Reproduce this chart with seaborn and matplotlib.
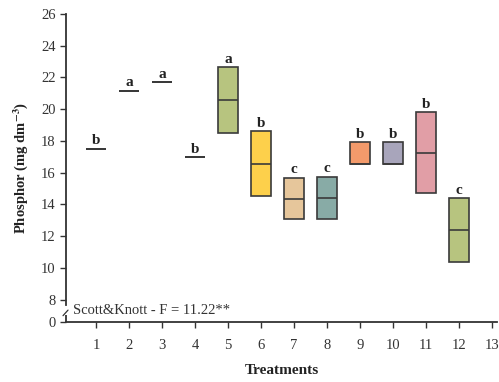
import matplotlib
matplotlib.use("Agg")
import matplotlib.pyplot as plt
import matplotlib.transforms as mtransforms
import numpy as np
import pandas as pd
import seaborn as sns

# Phosphor content per treatment: range (low/high) and median
treatments = [1, 2, 3, 4, 5, 6, 7, 8, 9, 10, 11, 12]
low = [17.50, 21.15, 21.70, 16.96, 18.47, 14.53, 13.08, 13.08, 16.56, 16.56, 14.70, 10.36]
mid = [17.50, 21.15, 21.70, 16.96, 20.57, 16.54, 14.34, 14.42, 16.56, 16.56, 17.23, 12.37]
high = [17.50, 21.15, 21.70, 16.96, 22.64, 18.60, 15.68, 15.74, 17.90, 17.90, 19.81, 14.40]
letters = ["b", "a", "a", "b", "a", "b", "c", "c", "b", "b", "b", "c"]
colors = ["#ffffff", "#ffffff", "#ffffff", "#ffffff", "#b7c47f", "#fdd04b",
          "#e6c69b", "#88aba6", "#f39a6b", "#a8a5bb", "#e19ea6", "#b7c47f"]

y_ticks = [8, 10, 12, 14, 16, 18, 20, 22, 24, 26]
x_ticks = list(range(1, 14))
y_floor = 6.60  # position of the "0" label below the axis break

# Five points per treatment so the box spans exactly low..high with the median inside
rows = []
for t, lo, md, hi in zip(treatments, low, mid, high):
    for v in (lo, lo, md, hi, hi):
        rows.append({"Treatment": t, "P": v})
df = pd.DataFrame(rows)

sns.set_theme(style="ticks")
plt.rcParams["font.family"] = ["Liberation Serif", "DejaVu Serif"]
plt.rcParams["mathtext.fontset"] = "stix"

fig = plt.figure(figsize=(4.99, 3.82), dpi=100)
ax = fig.add_axes([0.1323, 0.157, 0.8637, 0.807])

edge = "#3a3a3a"
sns.boxplot(data=df, x="Treatment", y="P", hue="Treatment",
            palette=dict(zip(treatments, colors)), native_scale=True,
            width=0.6, whis=0, showcaps=False, showfliers=False,
            saturation=1, linewidth=1.2, linecolor=edge, legend=False, ax=ax)

# Single-valued treatments are drawn as plain horizontal bars
for t, lo, hi in zip(treatments, low, high):
    if hi == lo:
        ax.plot([t - 0.3, t + 0.3], [lo, lo], color=edge, lw=1.2,
                solid_capstyle="butt", zorder=3)

for t, hi, lab in zip(treatments, high, letters):
    ax.annotate(lab, (t, hi), xytext=(0, 1), textcoords="offset points",
                ha="center", va="bottom", fontsize=11, fontweight="bold",
                color="#222222")

ax.set_xlim(0.09, 13.15)
ax.set_ylim(y_floor, 26)
ax.set_xticks(x_ticks)
ax.set_xticklabels([str(v) for v in x_ticks])
ax.set_yticks([y_floor] + y_ticks)
ax.set_yticklabels(["0"] + [str(v) for v in y_ticks])
ax.tick_params(axis="both", labelsize=10.5, colors="#333333", labelcolor="#333333",
               length=4, width=1.0)
ax.tick_params(axis="x", pad=8)

for side in ("top", "right"):
    ax.spines[side].set_visible(False)
for side in ("left", "bottom"):
    ax.spines[side].set_color("#333333")
    ax.spines[side].set_linewidth(1.3)

# Broken y axis
ax.spines["left"].set_bounds(7.7, 26)
trans = mtransforms.blended_transform_factory(ax.transAxes, ax.transData)
ax.plot([0, 0], [y_floor, 7.02], color="#333333", lw=1.3, transform=trans,
        clip_on=False, solid_capstyle="butt")
px = 1.0 / (0.8637 * 499)
ax.plot([-3 * px, 2 * px], [7.0, 7.35], color="#333333", lw=0.9,
        transform=trans, clip_on=False)

ax.text(0.0155, 7.33, "Scott&Knott - F = 11.22**", transform=trans,
        ha="left", va="center", fontsize=10.5, color="#333333")

ax.set_xlabel("Treatments", fontsize=11, fontweight="bold", color="#222222",
              labelpad=9)
ax.set_ylabel("Phosphor (mg dm$^{\\mathbf{-3}}$)", fontsize=10.5, fontweight="bold",
              color="#222222", labelpad=8)

fig.savefig("out.png", dpi=100, facecolor="white")
